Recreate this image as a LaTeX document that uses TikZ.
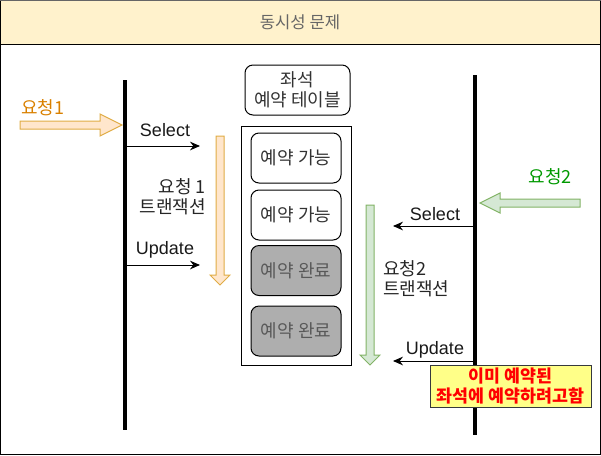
\documentclass[tikz,border=0pt]{standalone}
\usepackage{fontspec}
\setmainfont{Liberation Sans}
\newfontfamily\kr{Noto Sans CJK KR}
\usetikzlibrary{arrows.meta}
\definecolor{titlefill}{HTML}{FFF2CC}
\definecolor{orfill}{HTML}{FFE6CC}
\definecolor{orstroke}{HTML}{E0AC45}
\definecolor{ortext}{HTML}{D98000}
\definecolor{grfill}{HTML}{D5E8D4}
\definecolor{grstroke}{HTML}{82B366}
\definecolor{grtext}{HTML}{009900}
\definecolor{cellgray}{HTML}{AEAEAE}
\definecolor{notefill}{HTML}{FFFF88}
\definecolor{notestroke}{HTML}{36393D}
\tikzset{
  krtext/.style={font=\kr\fontsize{13.5}{15}\selectfont, text=black!85, align=center, inner sep=0pt},
  lattext/.style={font=\fontsize{13.5}{15}\selectfont, text=black!90, inner sep=0pt},
  cellbox/.style={draw=black, line width=0.75pt, rounded corners=6pt, fill=white,
    minimum width=67.5pt, minimum height=37.5pt, krtext, text=black!80},
  donebox/.style={cellbox, fill=cellgray, text=black!65},
  lifeline/.style={line width=3pt, black},
  msg/.style={line width=0.75pt, -{Stealth[length=7.5pt,width=6.5pt,inset=2.5pt]}},
  orarrow/.style={draw=orstroke, fill=orfill, line width=0.75pt, line join=miter},
  grarrow/.style={draw=grstroke, fill=grfill, line width=0.75pt, line join=miter},
}
\begin{document}
\begin{tikzpicture}[x=0.75pt,y=-0.75pt]
\useasboundingbox (0,0) rectangle (601,455);
% frame and title band
\fill[titlefill] (0,0) rectangle (601,44);
\draw[line width=0.75pt] (0.5,44) -- (600.5,44);
\draw[line width=1pt] (0.6,0.6) rectangle (600.4,454.4);
\draw[line width=1.2pt, black!60] (0,0.6) -- (601,0.6);
\node[krtext, font=\kr\fontsize{12.5}{13}\selectfont, text=black!60] (title) at (300,22) {동시성 문제};

% lifelines
\coordinate (l1top) at (125,80);
\coordinate (l1bot) at (125,430);
\coordinate (l2top) at (475,75);
\coordinate (l2bot) at (475,435);
\draw[lifeline] (l1top) -- (l1bot);
\draw[lifeline] (l2top) -- (l2bot);

% request 1
\node[krtext, text=ortext, anchor=west] (req1) at (21,108) {요청1};
\draw[orarrow] (20,121) -- (100,121) -- (100,114) -- (122,125) -- (100,136) -- (100,129) -- (20,129) -- cycle;

% request 2
\node[krtext, text=grtext] (req2) at (550,177) {요청2};
\draw[grarrow] (580,199) -- (500,199) -- (500,193) -- (480,203) -- (500,213) -- (500,207) -- (580,207) -- cycle;

% transaction arrows
\draw[orarrow] (216,136) -- (224,136) -- (224,275) -- (230,275) -- (220,285) -- (210,275) -- (216,275) -- cycle;
\draw[grarrow] (366,205) -- (374,205) -- (374,355) -- (380,355) -- (370,365) -- (360,355) -- (366,355) -- cycle;

\node[krtext, anchor=east, align=right] (tx1) at (206,197) {요청 1\\트랜잭션};
\node[krtext, anchor=west, align=left] (tx2) at (383,279) {요청2\\트랜잭션};

% messages
\coordinate (s1a) at (125,146);
\coordinate (s1b) at (200,146);
\coordinate (u1a) at (125,265);
\coordinate (u1b) at (200,265);
\coordinate (s2a) at (475,226);
\coordinate (s2b) at (393,226);
\coordinate (u2a) at (475,361);
\coordinate (u2b) at (393,361);
\draw[msg] (s1a) -- (s1b);
\draw[msg] (u1a) -- (u1b);
\draw[msg] (s2a) -- (s2b);
\draw[msg] (u2a) -- (u2b);
\node[lattext] (sel1) at (165,130) {Select};
\node[lattext] (upd1) at (165,250) {Update};
\node[lattext] (sel2) at (435,214) {Select};
\node[lattext] (upd2) at (435,350) {Update};

% seat table
\node[cellbox, minimum width=78.75pt] (thead) at (297.5,90) {좌석\\예약 테이블};
\node[draw=black, line width=0.75pt, minimum width=82.5pt, minimum height=179.25pt, inner sep=0pt] (table) at (296,245.5) {};
\node[cellbox] (c1) at (296,158) {예약 가능};
\node[cellbox] (c2) at (296,215) {예약 가능};
\node[donebox] (c3) at (296,270.5) {예약 완료};
\node[donebox] (c4) at (296,331) {예약 완료};

% note
\node[draw=notestroke, fill=notefill, line width=0.75pt, minimum width=120.75pt, minimum height=31.5pt,
  font=\kr\bfseries\fontsize{13}{15.5}\selectfont, text=red, align=center, inner sep=0pt] (note) at (510.5,386)
  {이미 예약된\\좌석에 예약하려고함};
\end{tikzpicture}
\end{document}
